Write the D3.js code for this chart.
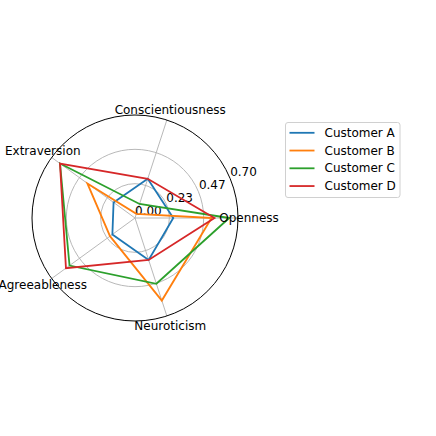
<!DOCTYPE html>
<html>
<head>
<meta charset="utf-8">
<script src="https://cdn.jsdelivr.net/npm/d3@7"></script>
<style>
  html, body { margin: 0; padding: 0; background: #fff; }
  svg { display: block; font-family: "DejaVu Sans", sans-serif; }
</style>
</head>
<body>
<svg id="chart" width="436" height="436"></svg>
<script>
const categories = ["Openness", "Conscientiousness", "Extraversion", "Agreeableness", "Neuroticism"];
const seriesNames = ["Customer A", "Customer B", "Customer C", "Customer D"];
const customerA = [0.26, 0.28, 0.18, 0.19, 0.30];
const customerB = [0.52, 0.03, 0.40, 0.21, 0.59];
const customerC = [0.64, 0.10, 0.63, 0.55, 0.47];
const customerD = [0.54, 0.28, 0.63, 0.58, 0.30];
const radialTicks = [0.00, 0.23, 0.47, 0.70];
const gridValues = [0.70 / 3, 0.70 * 2 / 3, 0.70];
const colors = ["#1f77b4", "#ff7f0e", "#2ca02c", "#d62728"];

const allSeries = [customerA, customerB, customerC, customerD];

const svg = d3.select("#chart");
const cx = 135, cy = 218, R = 103;
const g = svg.append("g").attr("transform", `translate(${cx},${cy})`);

const r = d3.scaleLinear().domain([0, 0.70]).range([0, R]);
const angle = d3.scaleLinear().domain([0, categories.length]).range([0, 2 * Math.PI]);
// matplotlib polar: theta counterclockwise from east
const px = (i, v) => r(v) * Math.cos(angle(i));
const py = (i, v) => -r(v) * Math.sin(angle(i));

// grid circles
g.selectAll("circle.grid").data(gridValues.slice(0, 2)).enter().append("circle")
  .attr("r", d => r(d)).attr("fill", "none").attr("stroke", "#b0b0b0").attr("stroke-width", 0.9);

// radial lines
g.selectAll("line.axis").data(categories).enter().append("line")
  .attr("x1", 0).attr("y1", 0)
  .attr("x2", (d, i) => px(i, 0.70)).attr("y2", (d, i) => py(i, 0.70))
  .attr("stroke", "#b0b0b0").attr("stroke-width", 0.9);

// radial tick labels at 22.5deg
const rlAng = 22.5 * Math.PI / 180;
g.selectAll("text.rtick").data(radialTicks).enter().append("text")
  .attr("x", d => r(d) * Math.cos(rlAng))
  .attr("y", d => -r(d) * Math.sin(rlAng) - 3)
  .attr("text-anchor", "start")
  .attr("font-size", 12).attr("fill", "#000")
  .text(d => d.toFixed(2));

// series
const line = d3.lineRadial().angle((d, i) => Math.PI / 2 - angle(i)).radius(d => r(d)).curve(d3.curveLinearClosed);
allSeries.forEach((vals, k) => {
  g.append("path").datum(vals)
    .attr("d", line)
    .attr("fill", "none").attr("stroke", colors[k]).attr("stroke-width", 1.8)
    .attr("stroke-linejoin", "miter");
});

// outer spine
g.append("circle").attr("r", R).attr("fill", "none").attr("stroke", "#000").attr("stroke-width", 1);

// category labels
const labR = R + 11;
g.selectAll("text.cat").data(categories).enter().append("text")
  .attr("x", (d, i) => labR * Math.cos(angle(i)))
  .attr("y", (d, i) => -labR * Math.sin(angle(i)))
  .attr("text-anchor", "middle").attr("dominant-baseline", "central")
  .attr("font-size", 12).attr("fill", "#000")
  .text(d => d);

// legend
const lg = svg.append("g").attr("transform", "translate(285.5,122.5)");
lg.append("rect").attr("width", 114.5).attr("height", 75).attr("rx", 2.5)
  .attr("fill", "#fff").attr("fill-opacity", 0.8).attr("stroke", "#d0d0d0").attr("stroke-width", 1);
seriesNames.forEach((name, k) => {
  const yy = 10.3 + k * 17.75;
  lg.append("line").attr("x1", 4).attr("x2", 29).attr("y1", yy).attr("y2", yy)
    .attr("stroke", colors[k]).attr("stroke-width", 1.8);
  lg.append("text").attr("x", 39).attr("y", yy).attr("dominant-baseline", "central")
    .attr("font-size", 12).attr("fill", "#000").text(name);
});
</script>
</body>
</html>
